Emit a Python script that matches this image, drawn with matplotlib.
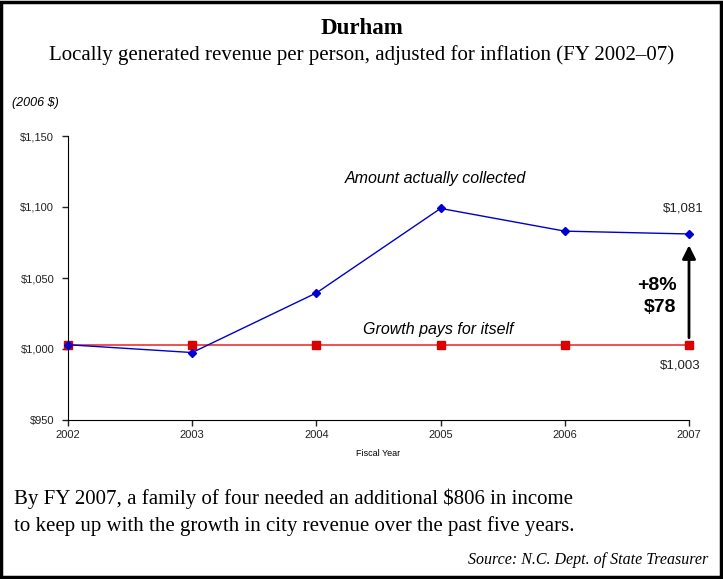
import numpy as np
import matplotlib
matplotlib.use('Agg')
import matplotlib.pyplot as plt
from matplotlib.patches import Rectangle
from matplotlib.ticker import FuncFormatter

# data
years = [2002, 2003, 2004, 2005, 2006, 2007]
collected = [1003, 997.5, 1039.5, 1099, 1083, 1081]
growth_pays = [1003, 1003, 1003, 1003, 1003, 1003]
yticks = [950, 1000, 1050, 1100, 1150]

plt.rcParams['font.family'] = ['Liberation Sans', 'DejaVu Sans']
serif = 'Liberation Serif'

fig = plt.figure(figsize=(7.23, 5.79), dpi=100)
ax = fig.add_axes([68/723, 1-420/579, (689-68)/723, (420-136)/579])

ax.plot(years, collected, color='#0000cc', lw=1, marker='D', ms=4, zorder=3, clip_on=False)
ax.plot(years, growth_pays, color='#ee3333', lw=1.2, marker='s', ms=6,
        mfc='#dd0000', mec='#dd0000', zorder=2, clip_on=False)

ax.set_xlim(2002, 2007)
ax.set_ylim(950, 1150)
ax.set_xticks(years)
ax.set_yticks(yticks)
ax.yaxis.set_major_formatter(FuncFormatter(lambda v, p: f"${v:,.0f}"))
ax.tick_params(labelsize=8, length=4, width=1, direction='out', colors='#222222')
ax.tick_params(axis='y', pad=6)
for s in ['top', 'right']:
    ax.spines[s].set_visible(False)
ax.set_xlabel("Fiscal Year", fontsize=6.5, labelpad=6)

ax.text(2004.96, 1120, "Amount actually collected", style='italic', fontsize=11.5, ha='center', va='center')
ax.text(2004.98, 1013.5, "Growth pays for itself", style='italic', fontsize=11.5, ha='center', va='center')
ax.text(2006.95, 1099, "$1,081", fontsize=9.5, ha='center', va='center', color='#222222')
ax.text(2006.93, 988.5, "$1,003", fontsize=9.5, ha='center', va='center', color='#222222')
ax.text(2006.9, 1045, "+8%", fontsize=14, fontweight='bold', ha='right', va='center')
ax.text(2006.9, 1029.5, "$78", fontsize=14, fontweight='bold', ha='right', va='center')
ax.annotate("", xy=(2007, 1075), xytext=(2007, 1006),
            arrowprops=dict(arrowstyle='-|>', color='black', lw=2, mutation_scale=20))

fig.text(0.5, 1-28/579, "Durham", fontfamily=serif, fontweight='bold', fontsize=16.5, ha='center', va='center')
fig.text(0.5, 1-55/579, "Locally generated revenue per person, adjusted for inflation (FY 2002\u201307)",
         fontfamily=serif, fontsize=15, ha='center', va='center')
fig.text(12/723, 1-103/579, "(2006 $)", style='italic', fontsize=9, ha='left', va='center')
fig.text(14/723, 1-499/579, "By FY 2007, a family of four needed an additional $806 in income",
         fontfamily=serif, fontsize=15, ha='left', va='center')
fig.text(14/723, 1-526/579, "to keep up with the growth in city revenue over the past five years.",
         fontfamily=serif, fontsize=15, ha='left', va='center')
fig.text(708/723, 1-560/579, "Source: N.C. Dept. of State Treasurer", fontfamily=serif, style='italic',
         fontsize=11.5, ha='right', va='center')

fig.patches.append(Rectangle((0.002, 0.003), 0.995, 0.994, transform=fig.transFigure,
                             fill=False, edgecolor='black', lw=2.5))

fig.savefig("out.png", dpi=100)
